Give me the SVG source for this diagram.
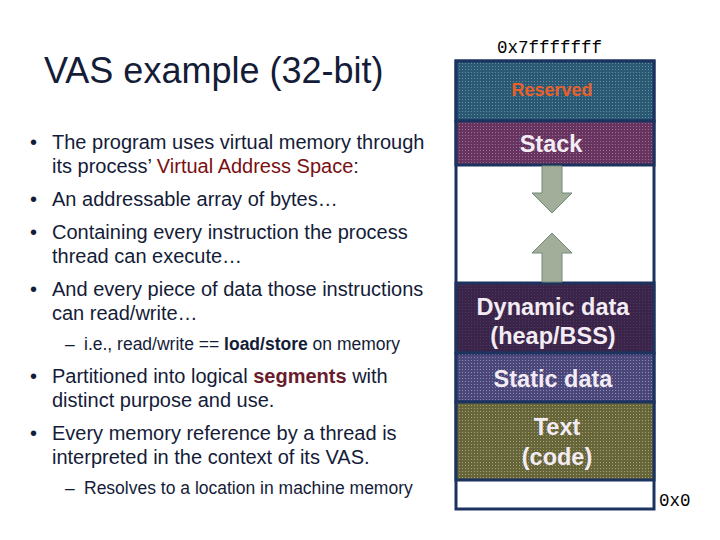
<svg xmlns="http://www.w3.org/2000/svg" width="720" height="540" viewBox="0 0 720 540">
<style>
.t{font-family:"Liberation Sans",Arial,sans-serif;fill:#141c38}
.b{font-size:20px}
.s{font-size:17.5px}
.m{font-family:"Liberation Mono","Courier New",monospace;font-size:17.5px;fill:#000}
.seg{font-family:"Liberation Sans",Arial,sans-serif;font-size:23.5px;font-weight:bold;fill:#f4ecf4;text-anchor:middle}
.bd{stroke:#1c3360;stroke-width:3}
</style>
<defs>
<pattern id="pR" width="3" height="3" patternUnits="userSpaceOnUse"><rect width="3" height="3" fill="#2b5873"/><rect width="1" height="1" fill="#5f8fa3"/></pattern>
<pattern id="pS" width="3" height="3" patternUnits="userSpaceOnUse"><rect width="3" height="3" fill="#66345f"/><rect width="1" height="1" fill="#9a6c92"/></pattern>
<pattern id="pD" width="3" height="3" patternUnits="userSpaceOnUse"><rect width="3" height="3" fill="#3a2449"/><rect width="1" height="1" fill="#4d3a5c"/></pattern>
<pattern id="pT" width="3" height="3" patternUnits="userSpaceOnUse"><rect width="3" height="3" fill="#4c477a"/><rect width="1" height="1" fill="#8f8cb2"/></pattern>
<pattern id="pC" width="3" height="3" patternUnits="userSpaceOnUse"><rect width="3" height="3" fill="#67653a"/><rect width="1" height="1" fill="#a4a274"/></pattern>
</defs>
<rect width="720" height="540" fill="#fff"/>
<text class="t" x="44" y="83" font-size="36">VAS example (32-bit)</text>
<g id="bullets">
<text class="t b" x="30" y="149">•</text>
<text class="t b" x="52" y="149">The program uses virtual memory through</text>
<text class="t b" x="52" y="173">its process’ <tspan fill="#7a0f12">Virtual Address Space</tspan>:</text>
<text class="t b" x="30" y="206">•</text>
<text class="t b" x="52" y="206">An addressable array of bytes…</text>
<text class="t b" x="30" y="239">•</text>
<text class="t b" x="52" y="239">Containing every instruction the process</text>
<text class="t b" x="52" y="263">thread can execute…</text>
<text class="t b" x="30" y="296">•</text>
<text class="t b" x="52" y="296">And every piece of data those instructions</text>
<text class="t b" x="52" y="320">can read/write…</text>
<text class="t s" x="65" y="350">–</text>
<text class="t s" x="84" y="350">i.e., read/write == <tspan font-weight="bold">load/store</tspan> on memory</text>
<text class="t b" x="30" y="383">•</text>
<text class="t b" x="52" y="383">Partitioned into logical <tspan font-weight="bold" fill="#6a1c2c">segments</tspan> with</text>
<text class="t b" x="52" y="407">distinct purpose and use.</text>
<text class="t b" x="30" y="440">•</text>
<text class="t b" x="52" y="440">Every memory reference by a thread is</text>
<text class="t b" x="52" y="464">interpreted in the context of its VAS.</text>
<text class="t s" x="65" y="494">–</text>
<text class="t s" x="84" y="494">Resolves to a location in machine memory</text>
</g>
<text class="m" x="497" y="53">0x7fffffff</text>
<text class="m" x="659" y="506">0x0</text>
<g id="vas">
<rect x="456" y="61" width="198" height="448" fill="#fff" class="bd"/>
<g id="reserved"><rect x="456" y="61" width="198" height="60" fill="url(#pR)" class="bd"/>
<text x="552" y="96" font-family="Liberation Sans,Arial,sans-serif" font-size="18" font-weight="bold" fill="#e8602a" text-anchor="middle">Reserved</text></g>
<g id="stack"><rect x="456" y="121" width="198" height="44" fill="url(#pS)" class="bd"/>
<text class="seg" x="551" y="152">Stack</text></g>
<g id="dynamic"><rect x="456" y="283" width="198" height="70" fill="url(#pD)" class="bd"/>
<text class="seg" x="553" y="315">Dynamic data</text><text class="seg" x="553" y="344">(heap/BSS)</text></g>
<g id="static"><rect x="456" y="353" width="198" height="49" fill="url(#pT)" class="bd"/>
<text class="seg" x="553" y="387">Static data</text></g>
<g id="text"><rect x="456" y="402" width="198" height="78" fill="url(#pC)" class="bd"/>
<text class="seg" x="557" y="435">Text</text><text class="seg" x="557" y="465">(code)</text></g>
</g>
<g id="connectors" fill="#a3ae9a" stroke="#6f8a78" stroke-width="1">
<path d="M542,166 H562 V193 H572 L552,213 L532,193 H542 Z"/>
<path d="M542,282 H562 V253 H572 L552,233 L532,253 H542 Z"/>
</g>
</svg>
